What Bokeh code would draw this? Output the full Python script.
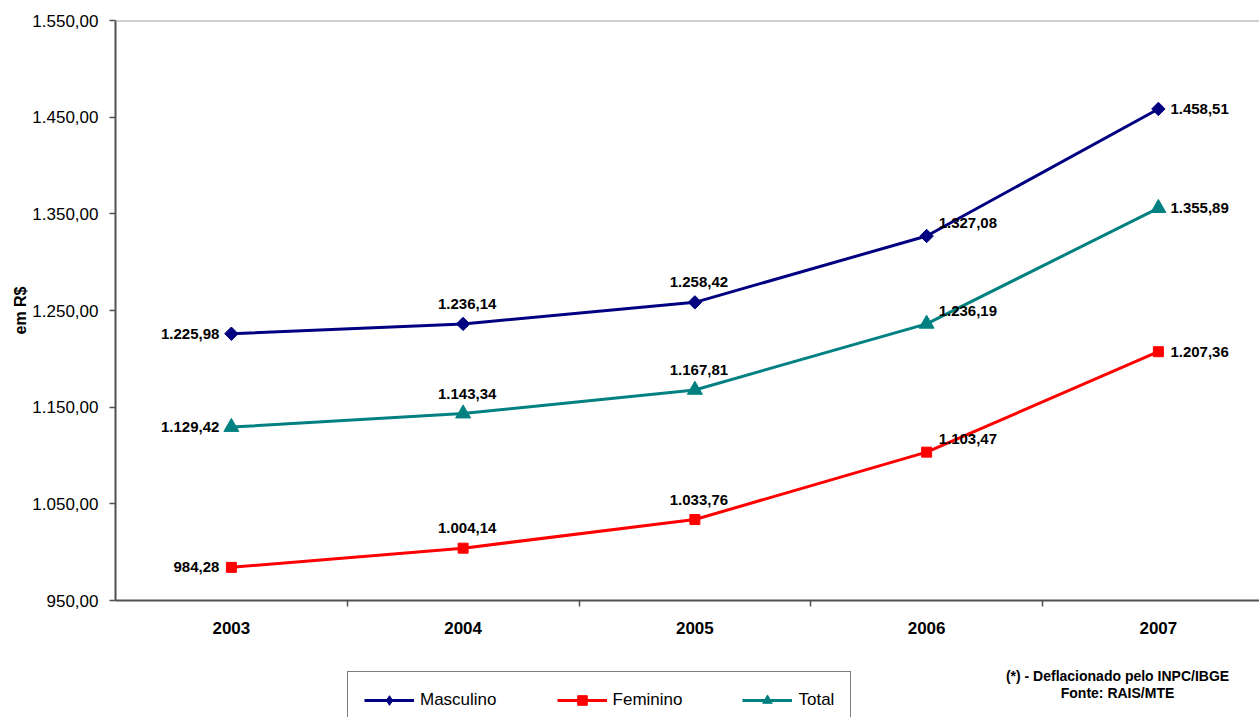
import math
from bokeh.plotting import figure
from bokeh.layouts import column
from bokeh.models import (Range1d, FixedTicker, Span, Legend, LegendItem, Label,
                          ColumnDataSource)
from bokeh.core.properties import value
from bokeh.embed import file_html
from bokeh.resources import INLINE

# ---- data ----
years = ["2003", "2004", "2005", "2006", "2007"]
masculino = [1225.98, 1236.14, 1258.42, 1327.08, 1458.51]
feminino = [984.28, 1004.14, 1033.76, 1103.47, 1207.36]
total = [1129.42, 1143.34, 1167.81, 1236.19, 1355.89]
y_ticks = [950, 1050, 1150, 1250, 1350, 1450, 1550]
y_label = "em R$"
footnote_1 = "(*) - Deflacionado pelo INPC/IBGE"
footnote_2 = "Fonte: RAIS/MTE"

# ---- style ----
FONT = "Liberation Sans"
W = 1259
H1, H2 = 650, 67
LEFT, TOP, BOTTOM = 115, 20, 50
CAT_PX = 231.75
label_dx = [-12, 4, 4, 12, 12]
label_dy = [0, -20, -20, -13, 0]
label_align = ["right", "center", "center", "left", "left"]


def br(v):
    s = f"{v:,.2f}"
    return s.replace(",", "X").replace(".", ",").replace("X", ".")


xs = list(range(len(years)))
frame_w = W - LEFT
x_end = -0.5 + frame_w / CAT_PX

p = figure(width=W, height=H1, output_backend="svg", toolbar_location=None,
           x_range=Range1d(-0.5, x_end), y_range=Range1d(y_ticks[0], y_ticks[-1]),
           min_border_left=LEFT, min_border_right=0, min_border_top=TOP,
           min_border_bottom=BOTTOM)
p.outline_line_color = None
p.xgrid.grid_line_color = None
p.ygrid.grid_line_color = None
p.background_fill_color = "white"
p.border_fill_color = "white"

# y axis
p.yaxis.ticker = FixedTicker(ticks=y_ticks, minor_ticks=[])
p.yaxis.major_label_overrides = {t: br(t) for t in y_ticks}
p.yaxis.major_label_text_font = FONT
p.yaxis.major_label_text_font_size = "17px"
p.yaxis.major_label_text_color = "black"
p.yaxis.major_tick_out = 6
p.yaxis.major_tick_in = 0
p.yaxis.major_label_standoff = 11
p.yaxis.axis_line_color = "#505050"
p.yaxis.axis_line_width = 2
p.yaxis.major_tick_line_color = "#505050"
p.yaxis.major_tick_line_width = 1.5
p.yaxis.axis_label = y_label
p.yaxis.axis_label_text_font = FONT
p.yaxis.axis_label_text_font_style = "bold"
p.yaxis.axis_label_text_font_size = "16px"
p.yaxis.axis_label_text_color = "black"
p.yaxis.axis_label_standoff = 0

# x axis
p.xaxis.ticker = FixedTicker(ticks=xs, minor_ticks=[i + 0.5 for i in xs[:-1]])
p.xaxis.major_label_overrides = {i: y for i, y in zip(xs, years)}
p.xaxis.major_label_text_font = FONT
p.xaxis.major_label_text_font_size = "17px"
p.xaxis.major_label_text_font_style = "bold"
p.xaxis.major_label_text_color = "black"
p.xaxis.major_tick_out = 0
p.xaxis.major_tick_in = 0
p.xaxis.minor_tick_out = 6
p.xaxis.minor_tick_in = 0
p.xaxis.minor_tick_line_color = "#505050"
p.xaxis.minor_tick_line_width = 1.5
p.xaxis.major_label_standoff = 15
p.xaxis.axis_line_color = "#505050"
p.xaxis.axis_line_width = 2

p.add_layout(Span(location=y_ticks[-1], dimension="width", line_color="#a0a0a0",
                  line_width=2))

series = [
    ("Masculino", masculino, "#000080", "square", 9.5, math.pi / 4, "diamond", 14),
    ("Feminino", feminino, "#FF0000", "square", 10, 0, "square", 10),
    ("Total", total, "#008080", "triangle", 15, 0, "triangle", 13),
]

# ---- legend / footnote strip (frame is aligned with the chart frame) ----
p2 = figure(width=W, height=H2, output_backend="svg", toolbar_location=None,
            x_range=Range1d(0, 1), y_range=Range1d(0, 1),
            min_border_left=LEFT, min_border_right=0, min_border_top=0,
            min_border_bottom=0)
p2.axis.visible = False
p2.grid.visible = False
p2.outline_line_color = None
p2.background_fill_color = "white"
p2.border_fill_color = "white"

items = []
for name, vals, color, marker, size, ang, leg_marker, leg_size in series:
    src = ColumnDataSource(dict(x=xs, y=vals, t=[br(v) for v in vals],
                                dx=label_dx, dy=label_dy, al=label_align))
    p.line("x", "y", source=src, line_color=color, line_width=3)
    p.scatter("x", "y", source=src, marker=marker, size=size, angle=ang,
              fill_color=color, line_color=color)
    p.text("x", "y", text="t", source=src, x_offset="dx", y_offset="dy",
           text_align="al", text_baseline="middle", text_font=value(FONT),
           text_font_size="15px", text_font_style="bold", text_color="black")
    # legend proxies: same data, lying outside this strip's visible range
    src2 = ColumnDataSource(dict(x=xs, y=vals))
    lr = p2.line("x", "y", source=src2, line_color=color, line_width=3)
    sr = p2.scatter("x", "y", source=src2, marker=leg_marker, size=leg_size,
                    fill_color=color, line_color=color)
    items.append(LegendItem(label=name, renderers=[lr, sr]))

legend = Legend(items=items, orientation="horizontal", location=(232, -12),
                padding=16, spacing=60, glyph_width=50, glyph_height=24,
                label_height=24, label_standoff=6, label_text_font=FONT,
                label_text_font_size="17px", label_text_color="black",
                border_line_color="black", border_line_width=1,
                background_fill_color="white", background_fill_alpha=1,
                margin=0)
p2.add_layout(legend)

for txt, yy in ((footnote_1, 42), (footnote_2, 25)):
    p2.add_layout(Label(x=1002, y=yy, x_units="screen", y_units="screen", text=txt,
                        text_align="center", text_baseline="middle",
                        text_font=FONT, text_font_size="14px",
                        text_font_style="bold", text_color="black"))

layout = column(p, p2, spacing=0)
open("out.html", "w").write(file_html(layout, INLINE))
